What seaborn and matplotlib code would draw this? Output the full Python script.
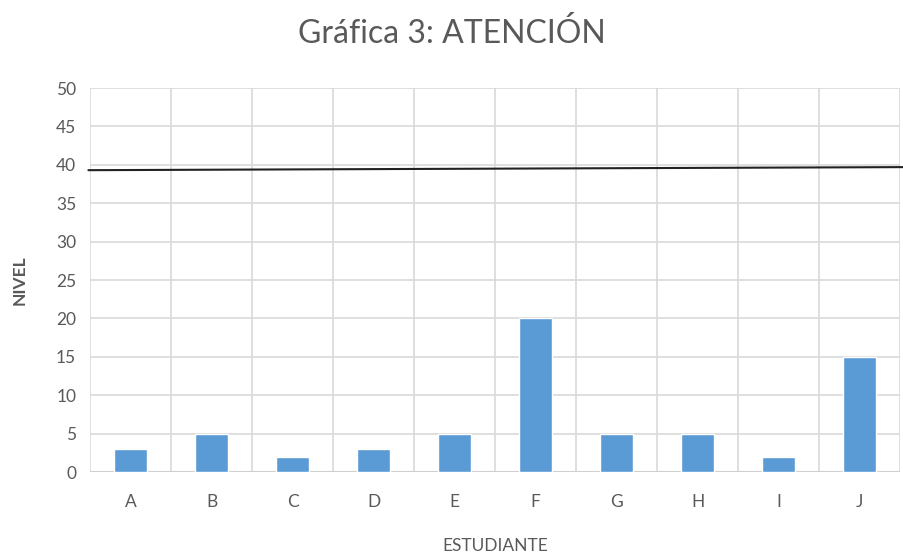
import matplotlib
matplotlib.use("Agg")
import matplotlib.pyplot as plt
import seaborn as sns
import pandas as pd
import numpy as np

estudiantes = ["A", "B", "C", "D", "E", "F", "G", "H", "I", "J"]
nivel = [3, 5, 2, 3, 5, 20, 5, 5, 2, 15]
umbral_inicio = 39.3
umbral_fin = 39.7
yticks = [0, 5, 10, 15, 20, 25, 30, 35, 40, 45, 50]

sns.set_theme(style="white")
plt.rcParams['font.family'] = ['Lato', 'DejaVu Sans']

df = pd.DataFrame({"ESTUDIANTE": estudiantes, "NIVEL": nivel})

fig = plt.figure(figsize=(9.04, 5.57), dpi=100)
ax = fig.add_axes([0.0996, 0.1526, 0.8960, 0.6894])

sns.barplot(data=df, x="ESTUDIANTE", y="NIVEL", color="#5b9bd5",
            width=0.41, saturation=1, ax=ax, zorder=3)

n = len(estudiantes)
ax.set_xlim(-0.5, n - 0.5)
ax.set_ylim(0, 50)
ax.set_yticks(yticks)
for b in np.arange(-0.5, n, 1.0):
    ax.axvline(b, color="#d9d9d9", lw=1.2, zorder=1)
for t in yticks:
    ax.axhline(t, color="#d9d9d9", lw=1.2, zorder=1)
ax.axhline(0, color="#d0d0d0", lw=1.5, zorder=2)

for s in ax.spines.values():
    s.set_visible(False)

ax.tick_params(axis="both", length=0, labelsize=12.5, labelcolor="#595959")
ax.tick_params(axis="x", pad=16)
ax.tick_params(axis="y", pad=10)

ax.set_xlabel("ESTUDIANTE", fontsize=12.5, color="#595959", labelpad=20)
ax.set_ylabel("NIVEL", fontsize=12.5, color="#595959", fontweight="bold", labelpad=20)

# threshold line extending across and beyond plot area
ax.plot([-0.52, n - 0.5 + 0.06], [umbral_inicio, umbral_fin], color="#222222",
        lw=1.5, clip_on=False, zorder=4)

fig.suptitle("Gráfica 3: ATENCIÓN", fontsize=23, color="#595959", y=0.968)

fig.savefig("out.png", dpi=100)
